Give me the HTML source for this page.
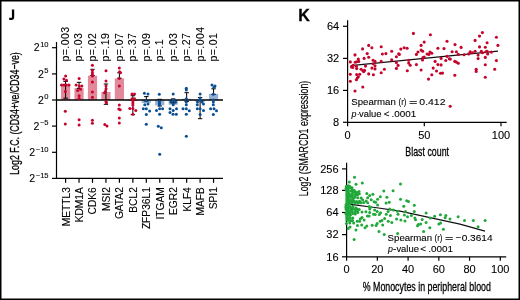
<!DOCTYPE html>
<html><head><meta charset="utf-8"><style>
html,body{margin:0;padding:0;background:#fff;}
svg{display:block;will-change:transform;}
</style></head><body>
<svg width="520" height="300" viewBox="0 0 520 300">
<rect width="520" height="300" fill="#fff"/>
<line x1="56.5" y1="42" x2="56.5" y2="178.9" stroke="#000" stroke-width="1.2"/>
<line x1="55.9" y1="178.4" x2="223" y2="178.4" stroke="#000" stroke-width="1.2"/>
<line x1="52" y1="47.7" x2="56.5" y2="47.7" stroke="#000" stroke-width="1.2"/>
<text x="48.6" y="51.4" text-anchor="end" font-family="Liberation Sans, sans-serif" stroke="#000" stroke-width="0.1" font-size="10.5">2<tspan font-size="7.6" dx="0.5" dy="-4.4">10</tspan></text>
<line x1="52" y1="73.9" x2="56.5" y2="73.9" stroke="#000" stroke-width="1.2"/>
<text x="48.6" y="77.6" text-anchor="end" font-family="Liberation Sans, sans-serif" stroke="#000" stroke-width="0.1" font-size="10.5">2<tspan font-size="7.6" dx="0.5" dy="-4.4">5</tspan></text>
<line x1="52" y1="100.0" x2="56.5" y2="100.0" stroke="#000" stroke-width="1.2"/>
<text x="48.6" y="103.7" text-anchor="end" font-family="Liberation Sans, sans-serif" stroke="#000" stroke-width="0.1" font-size="10.5">2<tspan font-size="7.6" dx="0.5" dy="-4.4">0</tspan></text>
<line x1="52" y1="126.1" x2="56.5" y2="126.1" stroke="#000" stroke-width="1.2"/>
<text x="48.6" y="129.8" text-anchor="end" font-family="Liberation Sans, sans-serif" stroke="#000" stroke-width="0.1" font-size="10.5">2<tspan font-size="7.6" dx="0.5" dy="-4.4">−5</tspan></text>
<line x1="52" y1="152.3" x2="56.5" y2="152.3" stroke="#000" stroke-width="1.2"/>
<text x="48.6" y="156.0" text-anchor="end" font-family="Liberation Sans, sans-serif" stroke="#000" stroke-width="0.1" font-size="10.5">2<tspan font-size="7.6" dx="0.5" dy="-4.4">−10</tspan></text>
<line x1="52" y1="178.4" x2="56.5" y2="178.4" stroke="#000" stroke-width="1.2"/>
<text x="48.6" y="182.1" text-anchor="end" font-family="Liberation Sans, sans-serif" stroke="#000" stroke-width="0.1" font-size="10.5">2<tspan font-size="7.6" dx="0.5" dy="-4.4">−15</tspan></text>
<line x1="65.60" y1="178.4" x2="65.60" y2="182.8" stroke="#000" stroke-width="1.2"/>
<text transform="translate(69.50,187.2) rotate(-90)" text-anchor="end" font-family="Liberation Sans, sans-serif" stroke="#000" stroke-width="0.1" font-size="10.2">METTL3</text>
<text transform="translate(69.00,61.5) rotate(-90)" font-family="Liberation Sans, sans-serif" stroke="#000" stroke-width="0.1" font-size="10.5" letter-spacing="0.45">p=.003</text>
<line x1="79.05" y1="178.4" x2="79.05" y2="182.8" stroke="#000" stroke-width="1.2"/>
<text transform="translate(82.95,187.2) rotate(-90)" text-anchor="end" font-family="Liberation Sans, sans-serif" stroke="#000" stroke-width="0.1" font-size="10.2">KDM1A</text>
<text transform="translate(82.45,61.5) rotate(-90)" font-family="Liberation Sans, sans-serif" stroke="#000" stroke-width="0.1" font-size="10.5" letter-spacing="0.45">p=.03</text>
<line x1="92.50" y1="178.4" x2="92.50" y2="182.8" stroke="#000" stroke-width="1.2"/>
<text transform="translate(96.40,187.2) rotate(-90)" text-anchor="end" font-family="Liberation Sans, sans-serif" stroke="#000" stroke-width="0.1" font-size="10.2">CDK6</text>
<text transform="translate(95.90,61.5) rotate(-90)" font-family="Liberation Sans, sans-serif" stroke="#000" stroke-width="0.1" font-size="10.5" letter-spacing="0.45">p=.02</text>
<line x1="105.95" y1="178.4" x2="105.95" y2="182.8" stroke="#000" stroke-width="1.2"/>
<text transform="translate(109.85,187.2) rotate(-90)" text-anchor="end" font-family="Liberation Sans, sans-serif" stroke="#000" stroke-width="0.1" font-size="10.2">MSI2</text>
<text transform="translate(109.35,61.5) rotate(-90)" font-family="Liberation Sans, sans-serif" stroke="#000" stroke-width="0.1" font-size="10.5" letter-spacing="0.45">p=.19</text>
<line x1="119.40" y1="178.4" x2="119.40" y2="182.8" stroke="#000" stroke-width="1.2"/>
<text transform="translate(123.30,187.2) rotate(-90)" text-anchor="end" font-family="Liberation Sans, sans-serif" stroke="#000" stroke-width="0.1" font-size="10.2">GATA2</text>
<text transform="translate(122.80,61.5) rotate(-90)" font-family="Liberation Sans, sans-serif" stroke="#000" stroke-width="0.1" font-size="10.5" letter-spacing="0.45">p=.07</text>
<line x1="132.85" y1="178.4" x2="132.85" y2="182.8" stroke="#000" stroke-width="1.2"/>
<text transform="translate(136.75,187.2) rotate(-90)" text-anchor="end" font-family="Liberation Sans, sans-serif" stroke="#000" stroke-width="0.1" font-size="10.2">BCL2</text>
<text transform="translate(136.25,61.5) rotate(-90)" font-family="Liberation Sans, sans-serif" stroke="#000" stroke-width="0.1" font-size="10.5" letter-spacing="0.45">p=.37</text>
<line x1="146.30" y1="178.4" x2="146.30" y2="182.8" stroke="#000" stroke-width="1.2"/>
<text transform="translate(150.20,187.2) rotate(-90)" text-anchor="end" font-family="Liberation Sans, sans-serif" stroke="#000" stroke-width="0.1" font-size="10.2">ZFP36L1</text>
<text transform="translate(149.70,61.5) rotate(-90)" font-family="Liberation Sans, sans-serif" stroke="#000" stroke-width="0.1" font-size="10.5" letter-spacing="0.45">p=.09</text>
<line x1="159.75" y1="178.4" x2="159.75" y2="182.8" stroke="#000" stroke-width="1.2"/>
<text transform="translate(163.65,187.2) rotate(-90)" text-anchor="end" font-family="Liberation Sans, sans-serif" stroke="#000" stroke-width="0.1" font-size="10.2">ITGAM</text>
<text transform="translate(163.15,61.5) rotate(-90)" font-family="Liberation Sans, sans-serif" stroke="#000" stroke-width="0.1" font-size="10.5" letter-spacing="0.45">p=.1</text>
<line x1="173.20" y1="178.4" x2="173.20" y2="182.8" stroke="#000" stroke-width="1.2"/>
<text transform="translate(177.10,187.2) rotate(-90)" text-anchor="end" font-family="Liberation Sans, sans-serif" stroke="#000" stroke-width="0.1" font-size="10.2">EGR2</text>
<text transform="translate(176.60,61.5) rotate(-90)" font-family="Liberation Sans, sans-serif" stroke="#000" stroke-width="0.1" font-size="10.5" letter-spacing="0.45">p=.03</text>
<line x1="186.65" y1="178.4" x2="186.65" y2="182.8" stroke="#000" stroke-width="1.2"/>
<text transform="translate(190.55,187.2) rotate(-90)" text-anchor="end" font-family="Liberation Sans, sans-serif" stroke="#000" stroke-width="0.1" font-size="10.2">KLF4</text>
<text transform="translate(190.05,61.5) rotate(-90)" font-family="Liberation Sans, sans-serif" stroke="#000" stroke-width="0.1" font-size="10.5" letter-spacing="0.45">p=.27</text>
<line x1="200.10" y1="178.4" x2="200.10" y2="182.8" stroke="#000" stroke-width="1.2"/>
<text transform="translate(204.00,187.2) rotate(-90)" text-anchor="end" font-family="Liberation Sans, sans-serif" stroke="#000" stroke-width="0.1" font-size="10.2">MAFB</text>
<text transform="translate(203.50,61.5) rotate(-90)" font-family="Liberation Sans, sans-serif" stroke="#000" stroke-width="0.1" font-size="10.5" letter-spacing="0.45">p=.004</text>
<line x1="213.55" y1="178.4" x2="213.55" y2="182.8" stroke="#000" stroke-width="1.2"/>
<text transform="translate(217.45,187.2) rotate(-90)" text-anchor="end" font-family="Liberation Sans, sans-serif" stroke="#000" stroke-width="0.1" font-size="10.2">SPI1</text>
<text transform="translate(216.95,61.5) rotate(-90)" font-family="Liberation Sans, sans-serif" stroke="#000" stroke-width="0.1" font-size="10.5" letter-spacing="0.45">p=.01</text>
<rect x="61.00" y="84.6" width="9.2" height="15.400000000000006" fill="#e28a9c"/>
<rect x="74.45" y="88.1" width="9.2" height="11.900000000000006" fill="#e28a9c"/>
<rect x="87.90" y="75.7" width="9.2" height="24.299999999999997" fill="#e28a9c"/>
<rect x="101.35" y="92.0" width="9.2" height="8.0" fill="#e28a9c"/>
<rect x="114.80" y="78.4" width="9.2" height="21.599999999999994" fill="#e28a9c"/>
<rect x="128.25" y="100" width="9.2" height="1.0" fill="#e28a9c"/>
<rect x="141.70" y="100" width="9.2" height="3.0" fill="#94b3d3"/>
<rect x="155.15" y="100" width="9.2" height="5.299999999999997" fill="#94b3d3"/>
<rect x="168.60" y="100" width="9.2" height="4.700000000000003" fill="#94b3d3"/>
<rect x="182.05" y="98.8" width="9.2" height="1.2000000000000028" fill="#94b3d3"/>
<rect x="195.50" y="100" width="9.2" height="2.0" fill="#94b3d3"/>
<rect x="208.95" y="93.9" width="9.2" height="6.099999999999994" fill="#94b3d3"/>
<line x1="56.5" y1="100" x2="223" y2="100" stroke="#000" stroke-width="1.3"/>
<path d="M63.40,81.4 H67.80 M65.60,81.4 V98.2 M63.40,98.2 H67.80" stroke="#000" stroke-width="1" fill="none"/>
<path d="M76.85,82.3 H81.25 M79.05,82.3 V88.3 M76.85,88.3 H81.25" stroke="#000" stroke-width="1" fill="none"/>
<path d="M90.30,69.3 H94.70 M92.50,69.3 V75.5 M90.30,75.5 H94.70" stroke="#000" stroke-width="1" fill="none"/>
<path d="M103.75,84.0 H108.15 M105.95,84.0 V104.3 M103.75,104.3 H108.15" stroke="#000" stroke-width="1" fill="none"/>
<path d="M117.20,72.8 H121.60 M119.40,72.8 V78.2 M117.20,78.2 H121.60" stroke="#000" stroke-width="1" fill="none"/>
<path d="M130.65,95.7 H135.05 M132.85,95.7 V114.7 M130.65,114.7 H135.05" stroke="#000" stroke-width="1" fill="none"/>
<path d="M144.10,96.6 H148.50 M146.30,96.6 V101 M144.10,101 H148.50" stroke="#000" stroke-width="1" fill="none"/>
<path d="M157.55,99.3 H161.95 M159.75,99.3 V106 M157.55,106 H161.95" stroke="#000" stroke-width="1" fill="none"/>
<path d="M171.00,98.9 H175.40 M173.20,98.9 V103 M171.00,103 H175.40" stroke="#000" stroke-width="1" fill="none"/>
<path d="M184.45,92.7 H188.85 M186.65,92.7 V101.5 M184.45,101.5 H188.85" stroke="#000" stroke-width="1" fill="none"/>
<path d="M197.90,97.5 H202.30 M200.10,97.5 V118.7 M197.90,118.7 H202.30" stroke="#000" stroke-width="1" fill="none"/>
<path d="M211.35,88.8 H215.75 M213.55,88.8 V94.3 M211.35,94.3 H215.75" stroke="#000" stroke-width="1" fill="none"/>
<circle cx="65.6" cy="76.1" r="1.5" fill="#c5042b"/>
<circle cx="63.9" cy="79.1" r="1.5" fill="#c5042b"/>
<circle cx="66.5" cy="80.3" r="1.5" fill="#c5042b"/>
<circle cx="61.5" cy="84.9" r="1.5" fill="#c5042b"/>
<circle cx="64" cy="84.9" r="1.5" fill="#c5042b"/>
<circle cx="66.3" cy="84.9" r="1.5" fill="#c5042b"/>
<circle cx="69" cy="84.9" r="1.5" fill="#c5042b"/>
<circle cx="65.3" cy="91.6" r="1.5" fill="#c5042b"/>
<circle cx="65.3" cy="111.3" r="1.5" fill="#c5042b"/>
<circle cx="65.3" cy="123.9" r="1.5" fill="#c5042b"/>
<circle cx="79.1" cy="78.4" r="1.5" fill="#c5042b"/>
<circle cx="76.1" cy="84.9" r="1.5" fill="#c5042b"/>
<circle cx="79.3" cy="86.1" r="1.5" fill="#c5042b"/>
<circle cx="81.9" cy="86.1" r="1.5" fill="#c5042b"/>
<circle cx="77.6" cy="90.4" r="1.5" fill="#c5042b"/>
<circle cx="80.5" cy="89.3" r="1.5" fill="#c5042b"/>
<circle cx="79.1" cy="95.7" r="1.5" fill="#c5042b"/>
<circle cx="79.1" cy="98.6" r="1.5" fill="#c5042b"/>
<circle cx="79.1" cy="119.7" r="1.5" fill="#c5042b"/>
<circle cx="79.1" cy="125" r="1.5" fill="#c5042b"/>
<circle cx="92.4" cy="65.3" r="1.5" fill="#c5042b"/>
<circle cx="92.4" cy="70.4" r="1.5" fill="#c5042b"/>
<circle cx="92.4" cy="72.7" r="1.5" fill="#c5042b"/>
<circle cx="92.4" cy="74.7" r="1.5" fill="#c5042b"/>
<circle cx="92.4" cy="76" r="1.5" fill="#c5042b"/>
<circle cx="92.4" cy="82" r="1.5" fill="#c5042b"/>
<circle cx="92.4" cy="92" r="1.5" fill="#c5042b"/>
<circle cx="92.4" cy="97.3" r="1.5" fill="#c5042b"/>
<circle cx="92.4" cy="120.3" r="1.5" fill="#c5042b"/>
<circle cx="92.4" cy="123.3" r="1.5" fill="#c5042b"/>
<circle cx="106" cy="70.7" r="1.5" fill="#c5042b"/>
<circle cx="106" cy="81" r="1.5" fill="#c5042b"/>
<circle cx="106" cy="86" r="1.5" fill="#c5042b"/>
<circle cx="106" cy="88.7" r="1.5" fill="#c5042b"/>
<circle cx="105.5" cy="91.3" r="1.5" fill="#c5042b"/>
<circle cx="104.5" cy="92.7" r="1.5" fill="#c5042b"/>
<circle cx="106" cy="101.4" r="1.5" fill="#c5042b"/>
<circle cx="106.5" cy="102.7" r="1.5" fill="#c5042b"/>
<circle cx="104.8" cy="124.6" r="1.5" fill="#c5042b"/>
<circle cx="107" cy="125.9" r="1.5" fill="#c5042b"/>
<circle cx="119.3" cy="68" r="1.5" fill="#c5042b"/>
<circle cx="119.6" cy="71.7" r="1.5" fill="#c5042b"/>
<circle cx="120.5" cy="72.7" r="1.5" fill="#c5042b"/>
<circle cx="119.3" cy="78.4" r="1.5" fill="#c5042b"/>
<circle cx="119.3" cy="86" r="1.5" fill="#c5042b"/>
<circle cx="119.3" cy="105" r="1.5" fill="#c5042b"/>
<circle cx="118.8" cy="109" r="1.5" fill="#c5042b"/>
<circle cx="120.2" cy="109.7" r="1.5" fill="#c5042b"/>
<circle cx="119.3" cy="117.9" r="1.5" fill="#c5042b"/>
<circle cx="119.3" cy="123" r="1.5" fill="#c5042b"/>
<circle cx="132" cy="94" r="1.5" fill="#c5042b"/>
<circle cx="134.5" cy="94" r="1.5" fill="#c5042b"/>
<circle cx="132" cy="98.7" r="1.5" fill="#c5042b"/>
<circle cx="134.5" cy="98.7" r="1.5" fill="#c5042b"/>
<circle cx="132.9" cy="101" r="1.5" fill="#c5042b"/>
<circle cx="132.9" cy="103" r="1.5" fill="#c5042b"/>
<circle cx="132.9" cy="105" r="1.5" fill="#c5042b"/>
<circle cx="129.8" cy="108.6" r="1.5" fill="#c5042b"/>
<circle cx="132.9" cy="108.6" r="1.5" fill="#c5042b"/>
<circle cx="135.8" cy="110.6" r="1.5" fill="#c5042b"/>
<circle cx="132.9" cy="114.3" r="1.5" fill="#c5042b"/>
<circle cx="144.4" cy="93.3" r="1.5" fill="#0a4f94"/>
<circle cx="148" cy="94" r="1.5" fill="#0a4f94"/>
<circle cx="146" cy="100.7" r="1.5" fill="#0a4f94"/>
<circle cx="144.8" cy="104.7" r="1.5" fill="#0a4f94"/>
<circle cx="148" cy="104" r="1.5" fill="#0a4f94"/>
<circle cx="143.3" cy="108.7" r="1.5" fill="#0a4f94"/>
<circle cx="146.3" cy="108.7" r="1.5" fill="#0a4f94"/>
<circle cx="149.6" cy="111" r="1.5" fill="#0a4f94"/>
<circle cx="146.3" cy="114.4" r="1.5" fill="#0a4f94"/>
<circle cx="146.3" cy="124.2" r="1.5" fill="#0a4f94"/>
<circle cx="159.3" cy="94.2" r="1.5" fill="#0a4f94"/>
<circle cx="159.4" cy="101.3" r="1.5" fill="#0a4f94"/>
<circle cx="159.4" cy="103.2" r="1.5" fill="#0a4f94"/>
<circle cx="159.4" cy="105" r="1.5" fill="#0a4f94"/>
<circle cx="156.5" cy="110.6" r="1.5" fill="#0a4f94"/>
<circle cx="159.6" cy="108.7" r="1.5" fill="#0a4f94"/>
<circle cx="162.6" cy="108.7" r="1.5" fill="#0a4f94"/>
<circle cx="159.6" cy="114.3" r="1.5" fill="#0a4f94"/>
<circle cx="158.3" cy="126.2" r="1.5" fill="#0a4f94"/>
<circle cx="161.3" cy="127.8" r="1.5" fill="#0a4f94"/>
<circle cx="159.7" cy="154.2" r="1.5" fill="#0a4f94"/>
<circle cx="173.2" cy="94" r="1.5" fill="#0a4f94"/>
<circle cx="173.2" cy="100" r="1.5" fill="#0a4f94"/>
<circle cx="171" cy="102" r="1.5" fill="#0a4f94"/>
<circle cx="175.5" cy="102" r="1.5" fill="#0a4f94"/>
<circle cx="173.2" cy="104.7" r="1.5" fill="#0a4f94"/>
<circle cx="170" cy="108.7" r="1.5" fill="#0a4f94"/>
<circle cx="176.5" cy="108.7" r="1.5" fill="#0a4f94"/>
<circle cx="173.2" cy="110.4" r="1.5" fill="#0a4f94"/>
<circle cx="170" cy="112.5" r="1.5" fill="#0a4f94"/>
<circle cx="173" cy="114.2" r="1.5" fill="#0a4f94"/>
<circle cx="176.3" cy="114.2" r="1.5" fill="#0a4f94"/>
<circle cx="186.3" cy="88.3" r="1.5" fill="#0a4f94"/>
<circle cx="186.3" cy="90" r="1.5" fill="#0a4f94"/>
<circle cx="186.3" cy="98.7" r="1.5" fill="#0a4f94"/>
<circle cx="186.3" cy="102" r="1.5" fill="#0a4f94"/>
<circle cx="186.3" cy="104.7" r="1.5" fill="#0a4f94"/>
<circle cx="183" cy="108.7" r="1.5" fill="#0a4f94"/>
<circle cx="186.3" cy="108.7" r="1.5" fill="#0a4f94"/>
<circle cx="189.3" cy="110.7" r="1.5" fill="#0a4f94"/>
<circle cx="186.3" cy="114.2" r="1.5" fill="#0a4f94"/>
<circle cx="186.3" cy="136.3" r="1.5" fill="#0a4f94"/>
<circle cx="200.1" cy="94" r="1.5" fill="#0a4f94"/>
<circle cx="200.1" cy="98" r="1.5" fill="#0a4f94"/>
<circle cx="200.1" cy="100" r="1.5" fill="#0a4f94"/>
<circle cx="197.5" cy="102" r="1.5" fill="#0a4f94"/>
<circle cx="202" cy="102" r="1.5" fill="#0a4f94"/>
<circle cx="197.3" cy="104.7" r="1.5" fill="#0a4f94"/>
<circle cx="203.5" cy="104" r="1.5" fill="#0a4f94"/>
<circle cx="197.3" cy="108.7" r="1.5" fill="#0a4f94"/>
<circle cx="200.1" cy="108.7" r="1.5" fill="#0a4f94"/>
<circle cx="203.5" cy="110.4" r="1.5" fill="#0a4f94"/>
<circle cx="200.1" cy="114.4" r="1.5" fill="#0a4f94"/>
<circle cx="212" cy="85" r="1.5" fill="#0a4f94"/>
<circle cx="215" cy="86" r="1.5" fill="#0a4f94"/>
<circle cx="214" cy="87.3" r="1.5" fill="#0a4f94"/>
<circle cx="213.3" cy="94.3" r="1.5" fill="#0a4f94"/>
<circle cx="213.3" cy="100" r="1.5" fill="#0a4f94"/>
<circle cx="213.3" cy="102" r="1.5" fill="#0a4f94"/>
<circle cx="213.3" cy="104.7" r="1.5" fill="#0a4f94"/>
<circle cx="210.6" cy="108.7" r="1.5" fill="#0a4f94"/>
<circle cx="214" cy="108.7" r="1.5" fill="#0a4f94"/>
<circle cx="216.5" cy="110.7" r="1.5" fill="#0a4f94"/>
<circle cx="213.3" cy="114.4" r="1.5" fill="#0a4f94"/>
<path d="M11.9,9.4 H14.2 V17.6 Q14.2,20 11.8,20 H9.2 V17.8 H11.9 Z" fill="#000"/>
<text x="298.2" y="20.6" font-family="Liberation Sans, sans-serif" font-size="16" font-weight="bold" stroke="#000" stroke-width="0.3">K</text>
<text transform="translate(19.0,113.5) rotate(-90) scale(0.69,1)" text-anchor="middle" font-family="Liberation Sans, sans-serif" font-size="12.8" stroke="#000" stroke-width="0.3">Log2 F.C. (CD34+ve/CD34−ve)</text>
<line x1="347.6" y1="20.2" x2="347.6" y2="122.8" stroke="#000" stroke-width="1.2"/>
<line x1="347.0" y1="122.3" x2="506.7" y2="122.3" stroke="#000" stroke-width="1.2"/>
<line x1="343" y1="26.3" x2="347.6" y2="26.3" stroke="#000" stroke-width="1.2"/>
<text x="339.2" y="30.1" text-anchor="end" font-family="Liberation Sans, sans-serif" stroke="#000" stroke-width="0.1" font-size="11">64</text>
<line x1="343" y1="58.4" x2="347.6" y2="58.4" stroke="#000" stroke-width="1.2"/>
<text x="339.2" y="62.2" text-anchor="end" font-family="Liberation Sans, sans-serif" stroke="#000" stroke-width="0.1" font-size="11">32</text>
<line x1="343" y1="90.4" x2="347.6" y2="90.4" stroke="#000" stroke-width="1.2"/>
<text x="339.2" y="94.2" text-anchor="end" font-family="Liberation Sans, sans-serif" stroke="#000" stroke-width="0.1" font-size="11">16</text>
<line x1="343" y1="122.3" x2="347.6" y2="122.3" stroke="#000" stroke-width="1.2"/>
<text x="339.2" y="126.1" text-anchor="end" font-family="Liberation Sans, sans-serif" stroke="#000" stroke-width="0.1" font-size="11">8</text>
<line x1="347.6" y1="122.3" x2="347.6" y2="126.3" stroke="#000" stroke-width="1.2"/>
<text x="347.6" y="138.6" text-anchor="middle" font-family="Liberation Sans, sans-serif" stroke="#000" stroke-width="0.1" font-size="11">0</text>
<line x1="424.3" y1="122.3" x2="424.3" y2="126.3" stroke="#000" stroke-width="1.2"/>
<text x="424.3" y="138.6" text-anchor="middle" font-family="Liberation Sans, sans-serif" stroke="#000" stroke-width="0.1" font-size="11">50</text>
<line x1="501" y1="122.3" x2="501" y2="126.3" stroke="#000" stroke-width="1.2"/>
<text x="501" y="138.6" text-anchor="middle" font-family="Liberation Sans, sans-serif" stroke="#000" stroke-width="0.1" font-size="11">100</text>
<text transform="translate(427.2,155.5) scale(0.68,1)" text-anchor="middle" font-family="Liberation Sans, sans-serif" font-size="13" stroke="#000" stroke-width="0.3">Blast count</text>
<text transform="translate(351.3,105.4) scale(0.975,1)" font-family="Liberation Sans, sans-serif" stroke="#000" stroke-width="0.1" font-size="9.9">Spearman</text>
<text transform="translate(398.5,105.4) scale(0.8,1)" font-family="Liberation Sans, sans-serif" stroke="#000" stroke-width="0.1" font-size="9.9">(r)</text>
<text transform="translate(408.90000000000003,105.4) scale(1.45,1)" font-family="Liberation Sans, sans-serif" stroke="#000" stroke-width="0.1" font-size="9.9">=</text>
<text transform="translate(419.3,105.4) scale(1.06,1)" font-family="Liberation Sans, sans-serif" stroke="#000" stroke-width="0.1" font-size="9.9">0.412</text>
<text transform="translate(351.6,117.1) scale(0.9,1)" font-family="Liberation Sans, sans-serif" stroke="#000" stroke-width="0.1" font-size="9.9" font-style="italic">p</text>
<rect x="357.7" y="114.1" width="1.2" height="0.9" fill="#333"/>
<text transform="translate(359.0,117.1) scale(0.95,1)" font-family="Liberation Sans, sans-serif" stroke="#000" stroke-width="0.1" font-size="9.9">value</text>
<text x="383.7" y="117.1" font-family="Liberation Sans, sans-serif" stroke="#000" stroke-width="0.1" font-size="9.9">&lt;</text>
<text x="391.59999999999997" y="117.1" font-family="Liberation Sans, sans-serif" stroke="#000" stroke-width="0.1" font-size="9.9">.0001</text>
<line x1="346.6" y1="162.7" x2="346.6" y2="257.4" stroke="#000" stroke-width="1.2"/>
<line x1="346.0" y1="256.8" x2="506.2" y2="256.8" stroke="#000" stroke-width="1.2"/>
<line x1="342" y1="168.9" x2="346.6" y2="168.9" stroke="#000" stroke-width="1.2"/>
<text x="338.6" y="172.7" text-anchor="end" font-family="Liberation Sans, sans-serif" stroke="#000" stroke-width="0.1" font-size="11">256</text>
<line x1="342" y1="190.4" x2="346.6" y2="190.4" stroke="#000" stroke-width="1.2"/>
<text x="338.6" y="194.2" text-anchor="end" font-family="Liberation Sans, sans-serif" stroke="#000" stroke-width="0.1" font-size="11">128</text>
<line x1="342" y1="212.5" x2="346.6" y2="212.5" stroke="#000" stroke-width="1.2"/>
<text x="338.6" y="216.3" text-anchor="end" font-family="Liberation Sans, sans-serif" stroke="#000" stroke-width="0.1" font-size="11">64</text>
<line x1="342" y1="234.6" x2="346.6" y2="234.6" stroke="#000" stroke-width="1.2"/>
<text x="338.6" y="238.4" text-anchor="end" font-family="Liberation Sans, sans-serif" stroke="#000" stroke-width="0.1" font-size="11">32</text>
<line x1="342" y1="256.8" x2="346.6" y2="256.8" stroke="#000" stroke-width="1.2"/>
<text x="338.6" y="260.6" text-anchor="end" font-family="Liberation Sans, sans-serif" stroke="#000" stroke-width="0.1" font-size="11">16</text>
<line x1="346.60" y1="256.8" x2="346.60" y2="260.8" stroke="#000" stroke-width="1.2"/>
<text x="346.60" y="272.9" text-anchor="middle" font-family="Liberation Sans, sans-serif" stroke="#000" stroke-width="0.1" font-size="11">0</text>
<line x1="377.34" y1="256.8" x2="377.34" y2="260.8" stroke="#000" stroke-width="1.2"/>
<text x="377.34" y="272.9" text-anchor="middle" font-family="Liberation Sans, sans-serif" stroke="#000" stroke-width="0.1" font-size="11">20</text>
<line x1="408.08" y1="256.8" x2="408.08" y2="260.8" stroke="#000" stroke-width="1.2"/>
<text x="408.08" y="272.9" text-anchor="middle" font-family="Liberation Sans, sans-serif" stroke="#000" stroke-width="0.1" font-size="11">40</text>
<line x1="438.82" y1="256.8" x2="438.82" y2="260.8" stroke="#000" stroke-width="1.2"/>
<text x="438.82" y="272.9" text-anchor="middle" font-family="Liberation Sans, sans-serif" stroke="#000" stroke-width="0.1" font-size="11">60</text>
<line x1="469.56" y1="256.8" x2="469.56" y2="260.8" stroke="#000" stroke-width="1.2"/>
<text x="469.56" y="272.9" text-anchor="middle" font-family="Liberation Sans, sans-serif" stroke="#000" stroke-width="0.1" font-size="11">80</text>
<line x1="500.30" y1="256.8" x2="500.30" y2="260.8" stroke="#000" stroke-width="1.2"/>
<text x="500.30" y="272.9" text-anchor="middle" font-family="Liberation Sans, sans-serif" stroke="#000" stroke-width="0.1" font-size="11">100</text>
<text transform="translate(426.8,290.5) scale(0.68,1)" text-anchor="middle" font-family="Liberation Sans, sans-serif" font-size="13" stroke="#000" stroke-width="0.3">% Monocytes in peripheral blood</text>
<text transform="translate(387.6,241.2) scale(0.975,1)" font-family="Liberation Sans, sans-serif" stroke="#000" stroke-width="0.1" font-size="9.9">Spearman</text>
<text transform="translate(434.5,241.2) scale(0.8,1)" font-family="Liberation Sans, sans-serif" stroke="#000" stroke-width="0.1" font-size="9.9">(r)</text>
<text transform="translate(444.90000000000003,241.2) scale(1.45,1)" font-family="Liberation Sans, sans-serif" stroke="#000" stroke-width="0.1" font-size="9.9">=</text>
<text x="455.8" y="241.2" font-family="Liberation Sans, sans-serif" stroke="#000" stroke-width="0.1" font-size="9.9">−</text>
<text transform="translate(461.7,241.2) scale(1.02,1)" font-family="Liberation Sans, sans-serif" stroke="#000" stroke-width="0.1" font-size="9.9">0.3614</text>
<text transform="translate(388.1,252.0) scale(0.9,1)" font-family="Liberation Sans, sans-serif" stroke="#000" stroke-width="0.1" font-size="9.9" font-style="italic">p</text>
<text x="393.0" y="252.0" font-family="Liberation Sans, sans-serif" stroke="#000" stroke-width="0.1" font-size="9.9">-</text>
<text transform="translate(396.40000000000003,252.0) scale(0.95,1)" font-family="Liberation Sans, sans-serif" stroke="#000" stroke-width="0.1" font-size="9.9">value</text>
<text x="420.3" y="252.0" font-family="Liberation Sans, sans-serif" stroke="#000" stroke-width="0.1" font-size="9.9">&lt;</text>
<text x="428.2" y="252.0" font-family="Liberation Sans, sans-serif" stroke="#000" stroke-width="0.1" font-size="9.9">.0001</text>
<text transform="translate(308.4,138.5) rotate(-90) scale(0.685,1)" text-anchor="middle" font-family="Liberation Sans, sans-serif" font-size="12.8" stroke="#000" stroke-width="0.18">Log2 (SMARCD1 expression)</text>
<path d="M350.7,65.6 L424,58.4 L498,51.2" stroke="#111" stroke-width="1.3" fill="none"/>
<path d="M347,203.9 L352.5,204.6 L375,207.5 L400,211.2 L460,224.2 L485,231.2" stroke="#111" stroke-width="1.2" fill="none"/>
<circle cx="362.6" cy="48.9" r="1.55" fill="#c5042b"/>
<circle cx="368.7" cy="45.4" r="1.55" fill="#c5042b"/>
<circle cx="371.9" cy="47.7" r="1.55" fill="#c5042b"/>
<circle cx="381.2" cy="46.8" r="1.55" fill="#c5042b"/>
<circle cx="391.7" cy="51.2" r="1.55" fill="#c5042b"/>
<circle cx="367.2" cy="53.6" r="1.55" fill="#c5042b"/>
<circle cx="382.4" cy="54" r="1.55" fill="#c5042b"/>
<circle cx="385.9" cy="53.6" r="1.55" fill="#c5042b"/>
<circle cx="398.7" cy="53.8" r="1.55" fill="#c5042b"/>
<circle cx="355" cy="54.9" r="1.55" fill="#c5042b"/>
<circle cx="400.8" cy="49.1" r="1.55" fill="#c5042b"/>
<circle cx="350.3" cy="61.9" r="1.55" fill="#c5042b"/>
<circle cx="358.3" cy="59.1" r="1.55" fill="#c5042b"/>
<circle cx="358.7" cy="61.4" r="1.55" fill="#c5042b"/>
<circle cx="355.2" cy="62.2" r="1.55" fill="#c5042b"/>
<circle cx="356.7" cy="61.7" r="1.55" fill="#c5042b"/>
<circle cx="364.1" cy="58.4" r="1.55" fill="#c5042b"/>
<circle cx="368.7" cy="57.2" r="1.55" fill="#c5042b"/>
<circle cx="373.1" cy="60.3" r="1.55" fill="#c5042b"/>
<circle cx="375" cy="61.4" r="1.55" fill="#c5042b"/>
<circle cx="381.2" cy="61.4" r="1.55" fill="#c5042b"/>
<circle cx="391.7" cy="59.9" r="1.55" fill="#c5042b"/>
<circle cx="396.4" cy="56.8" r="1.55" fill="#c5042b"/>
<circle cx="399.3" cy="54.4" r="1.55" fill="#c5042b"/>
<circle cx="396.4" cy="62.6" r="1.55" fill="#c5042b"/>
<circle cx="398.1" cy="65.4" r="1.55" fill="#c5042b"/>
<circle cx="396.4" cy="68.4" r="1.55" fill="#c5042b"/>
<circle cx="353.2" cy="65.2" r="1.55" fill="#c5042b"/>
<circle cx="351.5" cy="66.9" r="1.55" fill="#c5042b"/>
<circle cx="352.7" cy="67.5" r="1.55" fill="#c5042b"/>
<circle cx="356.4" cy="66.3" r="1.55" fill="#c5042b"/>
<circle cx="356.7" cy="68.6" r="1.55" fill="#c5042b"/>
<circle cx="365.5" cy="66.1" r="1.55" fill="#c5042b"/>
<circle cx="361.1" cy="69.2" r="1.55" fill="#c5042b"/>
<circle cx="362.9" cy="70.7" r="1.55" fill="#c5042b"/>
<circle cx="364.5" cy="70.4" r="1.55" fill="#c5042b"/>
<circle cx="363.7" cy="71.6" r="1.55" fill="#c5042b"/>
<circle cx="373.1" cy="63.8" r="1.55" fill="#c5042b"/>
<circle cx="375" cy="65.7" r="1.55" fill="#c5042b"/>
<circle cx="371.9" cy="68.1" r="1.55" fill="#c5042b"/>
<circle cx="375" cy="68.9" r="1.55" fill="#c5042b"/>
<circle cx="384.4" cy="69.2" r="1.55" fill="#c5042b"/>
<circle cx="350.3" cy="74.2" r="1.55" fill="#c5042b"/>
<circle cx="356.7" cy="74.5" r="1.55" fill="#c5042b"/>
<circle cx="359.7" cy="74.2" r="1.55" fill="#c5042b"/>
<circle cx="358.3" cy="76.8" r="1.55" fill="#c5042b"/>
<circle cx="368.7" cy="73.9" r="1.55" fill="#c5042b"/>
<circle cx="373.4" cy="74.7" r="1.55" fill="#c5042b"/>
<circle cx="381.2" cy="72.7" r="1.55" fill="#c5042b"/>
<circle cx="357.3" cy="78" r="1.55" fill="#c5042b"/>
<circle cx="356.4" cy="79.7" r="1.55" fill="#c5042b"/>
<circle cx="350.3" cy="81.2" r="1.55" fill="#c5042b"/>
<circle cx="362.8" cy="87" r="1.55" fill="#c5042b"/>
<circle cx="355" cy="91" r="1.55" fill="#c5042b"/>
<circle cx="413.4" cy="33.4" r="1.55" fill="#c5042b"/>
<circle cx="430.4" cy="34.8" r="1.55" fill="#c5042b"/>
<circle cx="447" cy="41.2" r="1.55" fill="#c5042b"/>
<circle cx="424.2" cy="42.1" r="1.55" fill="#c5042b"/>
<circle cx="421.1" cy="45.4" r="1.55" fill="#c5042b"/>
<circle cx="404.1" cy="47.7" r="1.55" fill="#c5042b"/>
<circle cx="407.1" cy="48.2" r="1.55" fill="#c5042b"/>
<circle cx="437.9" cy="48.2" r="1.55" fill="#c5042b"/>
<circle cx="444" cy="48.6" r="1.55" fill="#c5042b"/>
<circle cx="421.1" cy="50.1" r="1.55" fill="#c5042b"/>
<circle cx="422.7" cy="51.2" r="1.55" fill="#c5042b"/>
<circle cx="418" cy="52" r="1.55" fill="#c5042b"/>
<circle cx="416.4" cy="54.4" r="1.55" fill="#c5042b"/>
<circle cx="430" cy="52" r="1.55" fill="#c5042b"/>
<circle cx="431.8" cy="53.2" r="1.55" fill="#c5042b"/>
<circle cx="427.1" cy="54" r="1.55" fill="#c5042b"/>
<circle cx="428.9" cy="54.4" r="1.55" fill="#c5042b"/>
<circle cx="423" cy="57.6" r="1.55" fill="#c5042b"/>
<circle cx="424.2" cy="57" r="1.55" fill="#c5042b"/>
<circle cx="422.5" cy="59.9" r="1.55" fill="#c5042b"/>
<circle cx="408.7" cy="60.3" r="1.55" fill="#c5042b"/>
<circle cx="408.7" cy="63.1" r="1.55" fill="#c5042b"/>
<circle cx="410.2" cy="65.2" r="1.55" fill="#c5042b"/>
<circle cx="416.4" cy="64.6" r="1.55" fill="#c5042b"/>
<circle cx="407.3" cy="70.7" r="1.55" fill="#c5042b"/>
<circle cx="421.1" cy="70" r="1.55" fill="#c5042b"/>
<circle cx="435.1" cy="61.4" r="1.55" fill="#c5042b"/>
<circle cx="441.1" cy="58.4" r="1.55" fill="#c5042b"/>
<circle cx="445.8" cy="60.5" r="1.55" fill="#c5042b"/>
<circle cx="447" cy="56.4" r="1.55" fill="#c5042b"/>
<circle cx="449.3" cy="58.7" r="1.55" fill="#c5042b"/>
<circle cx="437.9" cy="64.6" r="1.55" fill="#c5042b"/>
<circle cx="441.1" cy="64.9" r="1.55" fill="#c5042b"/>
<circle cx="433.2" cy="68.1" r="1.55" fill="#c5042b"/>
<circle cx="436.5" cy="71" r="1.55" fill="#c5042b"/>
<circle cx="440.5" cy="73.3" r="1.55" fill="#c5042b"/>
<circle cx="442.5" cy="73.1" r="1.55" fill="#c5042b"/>
<circle cx="431.8" cy="74.7" r="1.55" fill="#c5042b"/>
<circle cx="428.5" cy="79.1" r="1.55" fill="#c5042b"/>
<circle cx="455" cy="44.6" r="1.55" fill="#c5042b"/>
<circle cx="461.1" cy="47.4" r="1.55" fill="#c5042b"/>
<circle cx="475.1" cy="40.4" r="1.55" fill="#c5042b"/>
<circle cx="479.5" cy="36.1" r="1.55" fill="#c5042b"/>
<circle cx="482.4" cy="32.6" r="1.55" fill="#c5042b"/>
<circle cx="487.1" cy="42.7" r="1.55" fill="#c5042b"/>
<circle cx="496.4" cy="37.3" r="1.55" fill="#c5042b"/>
<circle cx="497.9" cy="45.4" r="1.55" fill="#c5042b"/>
<circle cx="479.5" cy="46.9" r="1.55" fill="#c5042b"/>
<circle cx="485.3" cy="47.2" r="1.55" fill="#c5042b"/>
<circle cx="452.1" cy="51.8" r="1.55" fill="#c5042b"/>
<circle cx="456.4" cy="51.8" r="1.55" fill="#c5042b"/>
<circle cx="470.2" cy="51.8" r="1.55" fill="#c5042b"/>
<circle cx="475.1" cy="51.3" r="1.55" fill="#c5042b"/>
<circle cx="481.3" cy="51.3" r="1.55" fill="#c5042b"/>
<circle cx="487.1" cy="51.3" r="1.55" fill="#c5042b"/>
<circle cx="491.4" cy="52.1" r="1.55" fill="#c5042b"/>
<circle cx="458.3" cy="54.4" r="1.55" fill="#c5042b"/>
<circle cx="464.1" cy="54.8" r="1.55" fill="#c5042b"/>
<circle cx="468.8" cy="53.9" r="1.55" fill="#c5042b"/>
<circle cx="472.5" cy="52.8" r="1.55" fill="#c5042b"/>
<circle cx="482.4" cy="52.8" r="1.55" fill="#c5042b"/>
<circle cx="485.9" cy="51.8" r="1.55" fill="#c5042b"/>
<circle cx="487.7" cy="53.9" r="1.55" fill="#c5042b"/>
<circle cx="478.1" cy="55.1" r="1.55" fill="#c5042b"/>
<circle cx="478.1" cy="58.6" r="1.55" fill="#c5042b"/>
<circle cx="485.3" cy="57.4" r="1.55" fill="#c5042b"/>
<circle cx="496.4" cy="60.6" r="1.55" fill="#c5042b"/>
<circle cx="450.3" cy="59.1" r="1.55" fill="#c5042b"/>
<circle cx="454.8" cy="61.4" r="1.55" fill="#c5042b"/>
<circle cx="456.4" cy="62.1" r="1.55" fill="#c5042b"/>
<circle cx="458.3" cy="63.3" r="1.55" fill="#c5042b"/>
<circle cx="485.3" cy="64.7" r="1.55" fill="#c5042b"/>
<circle cx="476.2" cy="69.3" r="1.55" fill="#c5042b"/>
<circle cx="476.2" cy="71.4" r="1.55" fill="#c5042b"/>
<circle cx="494.7" cy="69.3" r="1.55" fill="#c5042b"/>
<circle cx="454.8" cy="75.2" r="1.55" fill="#c5042b"/>
<circle cx="485.3" cy="77.3" r="1.55" fill="#c5042b"/>
<circle cx="450.2" cy="106.3" r="1.55" fill="#c5042b"/>
<rect x="345.4" y="186.4" width="3" height="35" fill="#20a83a"/>
<circle cx="348.41" cy="185.76" r="1.6" fill="#20a83a"/>
<circle cx="348.46" cy="188.28" r="1.6" fill="#20a83a"/>
<circle cx="351.97" cy="187.73" r="1.6" fill="#20a83a"/>
<circle cx="347.85" cy="190.13" r="1.6" fill="#20a83a"/>
<circle cx="352.28" cy="190.08" r="1.6" fill="#20a83a"/>
<circle cx="354.28" cy="190.72" r="1.6" fill="#20a83a"/>
<circle cx="348.39" cy="192.66" r="1.6" fill="#20a83a"/>
<circle cx="352.83" cy="192.42" r="1.6" fill="#20a83a"/>
<circle cx="356.64" cy="192.40" r="1.6" fill="#20a83a"/>
<circle cx="347.84" cy="194.63" r="1.6" fill="#20a83a"/>
<circle cx="349.76" cy="195.17" r="1.6" fill="#20a83a"/>
<circle cx="352.40" cy="194.66" r="1.6" fill="#20a83a"/>
<circle cx="355.37" cy="195.36" r="1.6" fill="#20a83a"/>
<circle cx="357.56" cy="194.65" r="1.6" fill="#20a83a"/>
<circle cx="347.56" cy="197.01" r="1.6" fill="#20a83a"/>
<circle cx="349.99" cy="197.06" r="1.6" fill="#20a83a"/>
<circle cx="352.01" cy="197.40" r="1.6" fill="#20a83a"/>
<circle cx="354.92" cy="197.15" r="1.6" fill="#20a83a"/>
<circle cx="348.28" cy="199.30" r="1.6" fill="#20a83a"/>
<circle cx="350.49" cy="200.13" r="1.6" fill="#20a83a"/>
<circle cx="353.04" cy="200.06" r="1.6" fill="#20a83a"/>
<circle cx="348.16" cy="201.38" r="1.6" fill="#20a83a"/>
<circle cx="350.27" cy="202.32" r="1.6" fill="#20a83a"/>
<circle cx="352.24" cy="202.40" r="1.6" fill="#20a83a"/>
<circle cx="354.22" cy="201.62" r="1.6" fill="#20a83a"/>
<circle cx="356.57" cy="201.51" r="1.6" fill="#20a83a"/>
<circle cx="359.49" cy="201.46" r="1.6" fill="#20a83a"/>
<circle cx="346.07" cy="204.78" r="1.6" fill="#20a83a"/>
<circle cx="348.13" cy="204.30" r="1.6" fill="#20a83a"/>
<circle cx="349.64" cy="203.62" r="1.6" fill="#20a83a"/>
<circle cx="345.88" cy="206.98" r="1.6" fill="#20a83a"/>
<circle cx="348.14" cy="206.85" r="1.6" fill="#20a83a"/>
<circle cx="350.02" cy="206.72" r="1.6" fill="#20a83a"/>
<circle cx="352.95" cy="206.40" r="1.6" fill="#20a83a"/>
<circle cx="346.06" cy="209.07" r="1.6" fill="#20a83a"/>
<circle cx="348.18" cy="208.90" r="1.6" fill="#20a83a"/>
<circle cx="350.61" cy="208.30" r="1.6" fill="#20a83a"/>
<circle cx="351.94" cy="208.92" r="1.6" fill="#20a83a"/>
<circle cx="354.48" cy="209.04" r="1.6" fill="#20a83a"/>
<circle cx="357.24" cy="209.30" r="1.6" fill="#20a83a"/>
<circle cx="348.39" cy="211.29" r="1.6" fill="#20a83a"/>
<circle cx="350.67" cy="210.89" r="1.6" fill="#20a83a"/>
<circle cx="352.14" cy="211.02" r="1.6" fill="#20a83a"/>
<circle cx="355.30" cy="211.56" r="1.6" fill="#20a83a"/>
<circle cx="357.20" cy="210.88" r="1.6" fill="#20a83a"/>
<circle cx="346.02" cy="213.65" r="1.6" fill="#20a83a"/>
<circle cx="347.63" cy="213.00" r="1.6" fill="#20a83a"/>
<circle cx="349.93" cy="213.06" r="1.6" fill="#20a83a"/>
<circle cx="352.65" cy="213.39" r="1.6" fill="#20a83a"/>
<circle cx="355.21" cy="213.98" r="1.6" fill="#20a83a"/>
<circle cx="348.25" cy="215.12" r="1.6" fill="#20a83a"/>
<circle cx="350.15" cy="215.13" r="1.6" fill="#20a83a"/>
<circle cx="347.31" cy="217.97" r="1.6" fill="#20a83a"/>
<circle cx="349.81" cy="217.73" r="1.6" fill="#20a83a"/>
<circle cx="352.74" cy="218.02" r="1.6" fill="#20a83a"/>
<circle cx="348.39" cy="220.15" r="1.6" fill="#20a83a"/>
<circle cx="350.66" cy="220.66" r="1.6" fill="#20a83a"/>
<circle cx="352.46" cy="220.48" r="1.6" fill="#20a83a"/>
<circle cx="354.5" cy="177.3" r="1.5" fill="#20a83a"/>
<circle cx="349.3" cy="181.9" r="1.5" fill="#20a83a"/>
<circle cx="356" cy="184.3" r="1.5" fill="#20a83a"/>
<circle cx="362.3" cy="182.9" r="1.5" fill="#20a83a"/>
<circle cx="346.4" cy="186.3" r="1.5" fill="#20a83a"/>
<circle cx="349.9" cy="186.5" r="1.5" fill="#20a83a"/>
<circle cx="351.5" cy="188.3" r="1.5" fill="#20a83a"/>
<circle cx="346.1" cy="188.2" r="1.5" fill="#20a83a"/>
<circle cx="346.4" cy="189.7" r="1.5" fill="#20a83a"/>
<circle cx="400.5" cy="183.9" r="1.5" fill="#20a83a"/>
<circle cx="383.8" cy="190.9" r="1.5" fill="#20a83a"/>
<circle cx="393.1" cy="190.7" r="1.5" fill="#20a83a"/>
<circle cx="372.9" cy="194.2" r="1.5" fill="#20a83a"/>
<circle cx="350.6" cy="191.1" r="1.5" fill="#20a83a"/>
<circle cx="353" cy="191.4" r="1.5" fill="#20a83a"/>
<circle cx="355.1" cy="192" r="1.5" fill="#20a83a"/>
<circle cx="355.7" cy="194.1" r="1.5" fill="#20a83a"/>
<circle cx="359" cy="191.4" r="1.5" fill="#20a83a"/>
<circle cx="359.3" cy="193.8" r="1.5" fill="#20a83a"/>
<circle cx="350.9" cy="194.4" r="1.5" fill="#20a83a"/>
<circle cx="366.8" cy="193.5" r="1.5" fill="#20a83a"/>
<circle cx="369.7" cy="195.6" r="1.5" fill="#20a83a"/>
<circle cx="367.7" cy="197.7" r="1.5" fill="#20a83a"/>
<circle cx="371.2" cy="199.8" r="1.5" fill="#20a83a"/>
<circle cx="361.1" cy="198" r="1.5" fill="#20a83a"/>
<circle cx="362.6" cy="199.8" r="1.5" fill="#20a83a"/>
<circle cx="366.2" cy="201" r="1.5" fill="#20a83a"/>
<circle cx="367.7" cy="202.8" r="1.5" fill="#20a83a"/>
<circle cx="357.8" cy="197.7" r="1.5" fill="#20a83a"/>
<circle cx="353.6" cy="197.7" r="1.5" fill="#20a83a"/>
<circle cx="359.6" cy="202.2" r="1.5" fill="#20a83a"/>
<circle cx="363.8" cy="202.5" r="1.5" fill="#20a83a"/>
<circle cx="369.1" cy="206.6" r="1.5" fill="#20a83a"/>
<circle cx="369.7" cy="209" r="1.5" fill="#20a83a"/>
<circle cx="365.9" cy="211.7" r="1.5" fill="#20a83a"/>
<circle cx="369.7" cy="212.6" r="1.5" fill="#20a83a"/>
<circle cx="367.4" cy="215.9" r="1.5" fill="#20a83a"/>
<circle cx="369.1" cy="215.9" r="1.5" fill="#20a83a"/>
<circle cx="362" cy="212" r="1.5" fill="#20a83a"/>
<circle cx="362" cy="217.4" r="1.5" fill="#20a83a"/>
<circle cx="357.8" cy="212.6" r="1.5" fill="#20a83a"/>
<circle cx="346.4" cy="223.6" r="1.5" fill="#20a83a"/>
<circle cx="349.7" cy="223" r="1.5" fill="#20a83a"/>
<circle cx="353.6" cy="222.9" r="1.5" fill="#20a83a"/>
<circle cx="357.5" cy="225.4" r="1.5" fill="#20a83a"/>
<circle cx="361.7" cy="224.9" r="1.5" fill="#20a83a"/>
<circle cx="357.2" cy="221.2" r="1.5" fill="#20a83a"/>
<circle cx="359.6" cy="221.3" r="1.5" fill="#20a83a"/>
<circle cx="364.1" cy="220" r="1.5" fill="#20a83a"/>
<circle cx="366.8" cy="226" r="1.5" fill="#20a83a"/>
<circle cx="365" cy="227.7" r="1.5" fill="#20a83a"/>
<circle cx="350" cy="227.1" r="1.5" fill="#20a83a"/>
<circle cx="348.2" cy="228.4" r="1.5" fill="#20a83a"/>
<circle cx="356" cy="230" r="1.5" fill="#20a83a"/>
<circle cx="354.1" cy="239.5" r="1.5" fill="#20a83a"/>
<circle cx="372.2" cy="225.3" r="1.5" fill="#20a83a"/>
<circle cx="380.3" cy="196.8" r="1.5" fill="#20a83a"/>
<circle cx="386.9" cy="197.2" r="1.5" fill="#20a83a"/>
<circle cx="400.5" cy="199.3" r="1.5" fill="#20a83a"/>
<circle cx="377.6" cy="199.3" r="1.5" fill="#20a83a"/>
<circle cx="374.1" cy="201.7" r="1.5" fill="#20a83a"/>
<circle cx="375.6" cy="202.2" r="1.5" fill="#20a83a"/>
<circle cx="386.1" cy="203.1" r="1.5" fill="#20a83a"/>
<circle cx="389.2" cy="202.2" r="1.5" fill="#20a83a"/>
<circle cx="406.7" cy="200.7" r="1.5" fill="#20a83a"/>
<circle cx="408.5" cy="201.4" r="1.5" fill="#20a83a"/>
<circle cx="377.6" cy="204.9" r="1.5" fill="#20a83a"/>
<circle cx="403.8" cy="206.3" r="1.5" fill="#20a83a"/>
<circle cx="414.3" cy="205.2" r="1.5" fill="#20a83a"/>
<circle cx="370.6" cy="207.2" r="1.5" fill="#20a83a"/>
<circle cx="389.8" cy="208.9" r="1.5" fill="#20a83a"/>
<circle cx="393.3" cy="210" r="1.5" fill="#20a83a"/>
<circle cx="374.7" cy="210" r="1.5" fill="#20a83a"/>
<circle cx="377.2" cy="211.6" r="1.5" fill="#20a83a"/>
<circle cx="380.5" cy="212.7" r="1.5" fill="#20a83a"/>
<circle cx="388.1" cy="211.6" r="1.5" fill="#20a83a"/>
<circle cx="397.4" cy="211.2" r="1.5" fill="#20a83a"/>
<circle cx="405.5" cy="211.6" r="1.5" fill="#20a83a"/>
<circle cx="414.3" cy="211.6" r="1.5" fill="#20a83a"/>
<circle cx="373.5" cy="214.2" r="1.5" fill="#20a83a"/>
<circle cx="375.2" cy="214.5" r="1.5" fill="#20a83a"/>
<circle cx="379.3" cy="214.5" r="1.5" fill="#20a83a"/>
<circle cx="386.3" cy="214.2" r="1.5" fill="#20a83a"/>
<circle cx="398" cy="214.2" r="1.5" fill="#20a83a"/>
<circle cx="404.4" cy="215.1" r="1.5" fill="#20a83a"/>
<circle cx="411.4" cy="215.4" r="1.5" fill="#20a83a"/>
<circle cx="390.4" cy="215.4" r="1.5" fill="#20a83a"/>
<circle cx="407.5" cy="216.8" r="1.5" fill="#20a83a"/>
<circle cx="414.9" cy="218" r="1.5" fill="#20a83a"/>
<circle cx="415.5" cy="219.7" r="1.5" fill="#20a83a"/>
<circle cx="384.6" cy="218.6" r="1.5" fill="#20a83a"/>
<circle cx="396.6" cy="219.1" r="1.5" fill="#20a83a"/>
<circle cx="400.9" cy="220.1" r="1.5" fill="#20a83a"/>
<circle cx="405" cy="220.9" r="1.5" fill="#20a83a"/>
<circle cx="376.1" cy="225.6" r="1.5" fill="#20a83a"/>
<circle cx="377.2" cy="223.6" r="1.5" fill="#20a83a"/>
<circle cx="380.2" cy="221.3" r="1.5" fill="#20a83a"/>
<circle cx="381.9" cy="220.6" r="1.5" fill="#20a83a"/>
<circle cx="382.7" cy="225" r="1.5" fill="#20a83a"/>
<circle cx="388.3" cy="221.3" r="1.5" fill="#20a83a"/>
<circle cx="391.8" cy="222.4" r="1.5" fill="#20a83a"/>
<circle cx="379" cy="231.4" r="1.5" fill="#20a83a"/>
<circle cx="384.2" cy="234.6" r="1.5" fill="#20a83a"/>
<circle cx="397.6" cy="233.4" r="1.5" fill="#20a83a"/>
<circle cx="418.4" cy="224.4" r="1.5" fill="#20a83a"/>
<circle cx="426.1" cy="213.1" r="1.5" fill="#20a83a"/>
<circle cx="434.6" cy="216.2" r="1.5" fill="#20a83a"/>
<circle cx="440.4" cy="214.7" r="1.5" fill="#20a83a"/>
<circle cx="445.9" cy="215.4" r="1.5" fill="#20a83a"/>
<circle cx="445.1" cy="217.7" r="1.5" fill="#20a83a"/>
<circle cx="450" cy="218.9" r="1.5" fill="#20a83a"/>
<circle cx="458.1" cy="216.8" r="1.5" fill="#20a83a"/>
<circle cx="430.2" cy="218" r="1.5" fill="#20a83a"/>
<circle cx="422.2" cy="219.4" r="1.5" fill="#20a83a"/>
<circle cx="464.5" cy="220.5" r="1.5" fill="#20a83a"/>
<circle cx="426.1" cy="222.6" r="1.5" fill="#20a83a"/>
<circle cx="420.6" cy="224" r="1.5" fill="#20a83a"/>
<circle cx="440.6" cy="222.9" r="1.5" fill="#20a83a"/>
<circle cx="438.9" cy="224" r="1.5" fill="#20a83a"/>
<circle cx="473.4" cy="220.6" r="1.5" fill="#20a83a"/>
<circle cx="485.1" cy="220.4" r="1.5" fill="#20a83a"/>
<circle cx="478.1" cy="226.7" r="1.5" fill="#20a83a"/>
<circle cx="417.5" cy="225.8" r="1.5" fill="#20a83a"/>
<circle cx="429.8" cy="227.8" r="1.5" fill="#20a83a"/>
<circle cx="423.6" cy="231.6" r="1.5" fill="#20a83a"/>
<circle cx="443.4" cy="229.3" r="1.5" fill="#20a83a"/>
<circle cx="355.2" cy="202.8" r="1.5" fill="#20a83a"/>
<circle cx="358" cy="203.2" r="1.5" fill="#20a83a"/>
<circle cx="361.2" cy="202.8" r="1.5" fill="#20a83a"/>
<circle cx="356" cy="208" r="1.5" fill="#20a83a"/>
<circle cx="359.2" cy="209.6" r="1.5" fill="#20a83a"/>
<circle cx="360.4" cy="218.8" r="1.5" fill="#20a83a"/>
<rect x="0" y="0" width="520" height="300" fill="none" stroke="#000" stroke-width="3"/>
</svg>
</body></html>
